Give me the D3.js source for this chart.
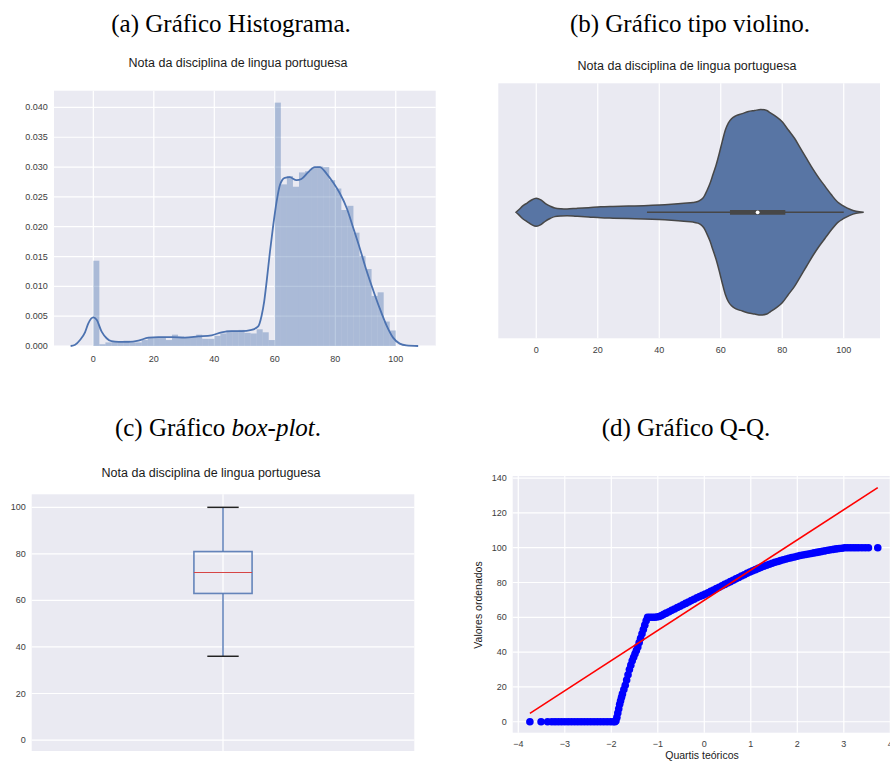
<!DOCTYPE html>
<html>
<head>
<meta charset="utf-8">
<script src="https://cdn.jsdelivr.net/npm/d3@7"></script>
<style>
  body { margin: 0; background: #ffffff; }
  svg { display: block; }
</style>
</head>
<body>
<svg id="fig" width="890" height="763"></svg>
<script>
// ---------- data ----------
// (a) histogram of grades: 50 bins of width 2 starting at 0 (density)
const histStart = 0;
const histBinWidth = 2;
const histDensity = [
  0.0143, 0.0003, 0.0006, 0.0007, 0.0008, 0.0009, 0.0006, 0.0006, 0.0010, 0.0015,
  0.0015, 0.0015, 0.0010, 0.0019, 0.0016, 0.0015, 0.0015, 0.0019, 0.0012, 0.0012,
  0.0017, 0.0021, 0.0026, 0.0026, 0.0027, 0.0022, 0.0021, 0.0028, 0.0023, 0.0010,
  0.0408, 0.0271, 0.0285, 0.0267, 0.0291, 0.0293, 0.0299, 0.0301, 0.0300, 0.0278,
  0.0264, 0.0228, 0.0235, 0.0190, 0.0151, 0.0129, 0.0084, 0.0090, 0.0041, 0.0026
];
// (a) kernel density estimate overlaid on the histogram
const kdeX = [-7.5, -6, -4.4, -2.75, -1.65, 0, 1.1, 2.75, 4.4, 6, 8.3, 11.6, 14.9, 18.2, 21.5,
  25.9, 30.3, 34.7, 39.1, 42.4, 45.7, 49, 52.3, 54.5, 55.6, 56.5, 57.3, 58.4, 59.5, 60.6,
  61.7, 63.3, 64.9, 67.2, 68.8, 71, 73.2, 74.9, 77.1, 79.3, 81.5, 83.8, 86, 88.1, 90.3,
  92.5, 94.7, 96.9, 99.1, 101.3, 103.5, 107.4];
const kdeY = [0, 0.0002, 0.001, 0.0023, 0.0038, 0.0048, 0.0044, 0.0024, 0.0013, 0.0008,
  0.0007, 0.0007, 0.0009, 0.0014, 0.0015, 0.0015, 0.0014, 0.0016, 0.0018, 0.0023,
  0.0025, 0.0025, 0.0027, 0.0033, 0.0050, 0.0075, 0.0108, 0.0158, 0.0203, 0.0242,
  0.0270, 0.0282, 0.0283, 0.0278, 0.0280, 0.0291, 0.0300, 0.0300, 0.0289, 0.0274,
  0.0256, 0.0231, 0.0197, 0.0164, 0.0127, 0.0094, 0.0063, 0.0035, 0.0014, 0.0004,
  0.0001, 0];
const histXTicks = [0, 20, 40, 60, 80, 100];
const histYTicks = [0, 0.005, 0.010, 0.015, 0.020, 0.025, 0.030, 0.035, 0.040];

// (b) violin: relative density (1 = widest point) along the grade axis
const violinX = [-6.6, -5.5, -4.5, -3, -1.5, 0, 1.5, 3, 4.5, 6, 8, 10, 13, 17, 21, 25, 30, 35,
  40, 44, 48, 51, 52.5, 53.5, 54.5, 55.5, 56.5, 57.5, 58.5, 59.5, 60.5, 61.5, 62.5, 63.5,
  65, 67, 69, 71, 73, 75, 76, 78, 80, 82, 84, 86, 88, 90, 92, 94, 96, 98, 100, 102, 104, 106.5];
const violinW = [0, 0.03, 0.06, 0.09, 0.12, 0.136, 0.12, 0.085, 0.06, 0.042, 0.035, 0.033,
  0.038, 0.045, 0.053, 0.057, 0.061, 0.064, 0.07, 0.078, 0.088, 0.095, 0.105, 0.12, 0.15,
  0.21, 0.28, 0.37, 0.46, 0.57, 0.69, 0.80, 0.87, 0.91, 0.94, 0.96, 0.98, 0.99, 1.0, 0.99,
  0.97, 0.93, 0.88, 0.80, 0.72, 0.62, 0.52, 0.42, 0.33, 0.25, 0.17, 0.10, 0.06, 0.03, 0.01, 0];
const violinXTicks = [0, 20, 40, 60, 80, 100];

// Summary statistics of the grades (used by the violin's inner box and the box-plot)
const whiskerLow = 36;
const quartile1 = 63;
const median = 72;
const quartile3 = 81;
const whiskerHigh = 100;
const boxYTicks = [0, 20, 40, 60, 80, 100];

// (d) Q-Q plot: theoretical quantiles vs ordered grades
const qqTheo = [
  -3.75, -3.51, -3.37, -3.28, -3.21, -3.14, -3.07, -3.00, -2.93, -2.86, -2.79, -2.72,
  -2.65, -2.58, -2.51, -2.44, -2.37, -2.30, -2.23, -2.16, -2.09, -2.02, -1.96, -1.92,
  -1.90, -1.88, -1.86, -1.84, -1.82, -1.80, -1.78, -1.76, -1.73, -1.70, -1.67, -1.64,
  -1.61, -1.58, -1.55, -1.52, -1.49, -1.46, -1.43, -1.40, -1.37, -1.34, -1.31, -1.28,
  -1.25, -1.22,
  -1.17, -1.12, -1.07, -1.02, -0.97, -0.92, -0.87, -0.82, -0.76, -0.70, -0.64, -0.58,
  -0.52, -0.46, -0.40, -0.34, -0.28, -0.22, -0.16, -0.10, -0.04, 0.02, 0.08, 0.14,
  0.20, 0.26, 0.32, 0.38, 0.44, 0.50, 0.56, 0.62, 0.68, 0.74, 0.80, 0.86, 0.92, 0.98,
  1.04, 1.10, 1.16, 1.22, 1.28, 1.34, 1.40, 1.46, 1.52, 1.58, 1.64, 1.70, 1.76, 1.82,
  1.88, 1.94, 2.00, 2.06, 2.12, 2.18, 2.24, 2.30, 2.36, 2.42, 2.48, 2.54, 2.60, 2.66,
  2.72, 2.78, 2.84, 2.90, 2.96, 3.02, 3.08, 3.14, 3.20, 3.26, 3.32, 3.39, 3.46, 3.53, 3.73
];
const qqVals = [
  0, 0, 0, 0, 0, 0, 0, 0, 0, 0, 0, 0,
  0, 0, 0, 0, 0, 0, 0, 0, 0, 0, 0, 0,
  0.5, 2.5, 5, 7.5, 10, 12, 14, 16, 18.5, 21, 24, 27,
  30, 32.5, 35, 37, 39, 41, 43, 45.5, 48, 50.5, 53, 55.5,
  58, 60,
  60, 60, 60, 60.2, 60.5, 61, 61.7, 62.4, 63.2, 64, 64.8, 65.6,
  66.4, 67.2, 68, 68.8, 69.6, 70.4, 71.2, 72, 72.6, 73.3, 74.1, 74.9,
  75.7, 76.5, 77.3, 78.1, 78.9, 79.7, 80.5, 81.3, 82.1, 82.9, 83.7, 84.5, 85.3, 86,
  86.7, 87.4, 88.1, 88.7, 89.3, 89.9, 90.5, 91.1, 91.6, 92.1, 92.6, 93.1, 93.5, 93.9,
  94.3, 94.7, 95.1, 95.5, 95.8, 96.1, 96.4, 96.7, 97, 97.3, 97.6, 97.9, 98.2, 98.5,
  98.8, 99.05, 99.3, 99.5, 99.7, 100, 100, 100, 100, 100, 100, 100, 100, 100, 100
];
// least-squares reference line, given by its two end points
const qqLineX = [-3.75, 3.73];
const qqLineY = [4.8, 134.5];
const qqXTicks = [-4, -3, -2, -1, 0, 1, 2, 3, 4];
const qqYTicks = [0, 20, 40, 60, 80, 100, 120, 140];

const chartTitle = "Nota da disciplina de lingua portuguesa";

// ---------- drawing ----------
const svg = d3.select("#fig");
const SANS = "'Liberation Sans', Arial, sans-serif";
const SERIF = "'Liberation Serif', 'Times New Roman', serif";
const BG = "#eaeaf2";
const TICK = "#3d3d3d";

function background(g, x0, y0, x1, y1) {
  g.append("rect").attr("x", x0).attr("y", y0)
    .attr("width", x1 - x0).attr("height", y1 - y0).attr("fill", BG);
}
function vGrid(g, ticks, xs, y0, y1) {
  g.selectAll(null).data(ticks).join("line")
    .attr("x1", d => xs(d)).attr("x2", d => xs(d))
    .attr("y1", y0).attr("y2", y1)
    .attr("stroke", "#fff").attr("stroke-width", 1.2);
}
function hGrid(g, ticks, ys, x0, x1) {
  g.selectAll(null).data(ticks).join("line")
    .attr("y1", d => ys(d)).attr("y2", d => ys(d))
    .attr("x1", x0).attr("x2", x1)
    .attr("stroke", "#fff").attr("stroke-width", 1.2);
}
function xLabels(g, ticks, xs, y, fmt) {
  g.selectAll(null).data(ticks).join("text")
    .attr("x", d => xs(d)).attr("y", y)
    .attr("text-anchor", "middle")
    .attr("font-family", SANS).attr("font-size", 9).attr("fill", TICK)
    .text(fmt);
}
function yLabels(g, ticks, ys, x, fmt) {
  g.selectAll(null).data(ticks).join("text")
    .attr("x", x).attr("y", d => ys(d)).attr("dy", "0.34em")
    .attr("text-anchor", "end")
    .attr("font-family", SANS).attr("font-size", 9).attr("fill", TICK)
    .text(fmt);
}
function title(x, y, txt) {
  svg.append("text").attr("x", x).attr("y", y).attr("text-anchor", "middle")
    .attr("font-family", SANS).attr("font-size", 12.5).attr("fill", "#1a1a1a")
    .text(txt);
}
function caption(x, y, parts) {
  const t = svg.append("text").attr("x", x).attr("y", y).attr("text-anchor", "middle")
    .attr("font-family", SERIF).attr("font-size", 25).attr("fill", "#000");
  parts.forEach(p => t.append("tspan").attr("font-style", p.italic ? "italic" : "normal").text(p.t));
}

// captions
caption(231, 32, [{ t: "(a) Gráfico Histograma." }]);
caption(690, 32, [{ t: "(b) Gráfico tipo violino." }]);
caption(218, 436, [{ t: "(c) Gráfico " }, { t: "box-plot", italic: true }, { t: "." }]);
caption(686, 436, [{ t: "(d) Gráfico Q-Q." }]);

// ----- (a) histogram + KDE -----
{
  const L = 54, T = 90.7, R = 435.7, B = 346;
  const x = d3.scaleLinear().domain([-13.0, 113.2]).range([L, R]);
  const y = d3.scaleLinear().domain([0, 0.0428]).range([B, T]);
  const g = svg.append("g");
  background(g, L, T, R, B);
  vGrid(g, histXTicks, x, T, B);
  hGrid(g, histYTicks, y, L, R);
  const bins = histDensity.map((d, i) => ({
    x0: histStart + i * histBinWidth, x1: histStart + (i + 1) * histBinWidth, d
  }));
  g.selectAll(null).data(bins).join("rect")
    .attr("x", b => x(b.x0)).attr("width", b => x(b.x1) - x(b.x0))
    .attr("y", b => y(b.d)).attr("height", b => y(0) - y(b.d))
    .attr("fill", "#4c72b0").attr("fill-opacity", 0.4);
  const kde = kdeX.map((v, i) => [v, kdeY[i]]);
  g.append("path").datum(kde)
    .attr("d", d3.line().x(d => x(d[0])).y(d => y(d[1])).curve(d3.curveMonotoneX))
    .attr("fill", "none").attr("stroke", "#4c72b0").attr("stroke-width", 1.8);
  xLabels(g, histXTicks, x, 361.5, d3.format("d"));
  yLabels(g, histYTicks, y, 47.7, d3.format(".3f"));
  title(238, 67, chartTitle);
}

// ----- (b) violin -----
{
  const L = 498.3, T = 83.3, R = 880, B = 338.3;
  const x = d3.scaleLinear().domain([-12.35, 111.8]).range([L, R]);
  const cy = 212.3;
  const y = d3.scaleLinear().domain([-0.5, 0.5]).range([cy + 128.5, cy - 128.5]);
  const g = svg.append("g");
  background(g, L, T, R, B);
  vGrid(g, violinXTicks, x, T, B);
  const shape = violinX.map((v, i) => [v, violinW[i] * 0.4]);
  const gray = "#474747";
  g.append("path").datum(shape)
    .attr("d", d3.area().x(d => x(d[0])).y0(d => y(-d[1])).y1(d => y(d[1])).curve(d3.curveMonotoneX))
    .attr("fill", "#5875a4").attr("stroke", gray).attr("stroke-width", 1.5);
  g.append("line").attr("x1", x(whiskerLow)).attr("x2", x(whiskerHigh))
    .attr("y1", y(0)).attr("y2", y(0)).attr("stroke", gray).attr("stroke-width", 1.5);
  g.append("line").attr("x1", x(quartile1)).attr("x2", x(quartile3))
    .attr("y1", y(0)).attr("y2", y(0)).attr("stroke", gray).attr("stroke-width", 4.8);
  g.append("circle").attr("cx", x(median)).attr("cy", y(0)).attr("r", 1.9).attr("fill", "#fff");
  xLabels(g, violinXTicks, x, 353, d3.format("d"));
  title(687, 69.5, chartTitle);
}

// ----- (c) box-plot -----
{
  const L = 31.7, T = 494.3, R = 414.3, B = 751;
  const x = d3.scaleLinear().domain([0.5, 1.5]).range([L, R]);
  const y = d3.scaleLinear().domain([-4.7, 105.6]).range([B, T]);
  const g = svg.append("g");
  background(g, L, T, R, B);
  vGrid(g, [1], x, T, B);
  hGrid(g, boxYTicks, y, L, R);
  const boxHalf = 0.076, capHalf = 0.041;
  const blue = "#4c72b0";
  // whiskers
  [[whiskerLow, quartile1], [quartile3, whiskerHigh]].forEach(([a, b]) => {
    g.append("line").attr("x1", x(1)).attr("x2", x(1)).attr("y1", y(a)).attr("y2", y(b))
      .attr("stroke", blue).attr("stroke-width", 1.6).attr("stroke-opacity", 0.85);
  });
  // box
  g.append("rect").attr("x", x(1 - boxHalf)).attr("width", x(1 + boxHalf) - x(1 - boxHalf))
    .attr("y", y(quartile3)).attr("height", y(quartile1) - y(quartile3))
    .attr("fill", "none").attr("stroke", blue).attr("stroke-width", 1.6).attr("stroke-opacity", 0.85);
  // caps
  [whiskerLow, whiskerHigh].forEach(v => {
    g.append("line").attr("x1", x(1 - capHalf)).attr("x2", x(1 + capHalf))
      .attr("y1", y(v)).attr("y2", y(v)).attr("stroke", "#222").attr("stroke-width", 1.5);
  });
  // median
  g.append("line").attr("x1", x(1 - boxHalf)).attr("x2", x(1 + boxHalf))
    .attr("y1", y(median)).attr("y2", y(median)).attr("stroke", "#d64545").attr("stroke-width", 1.2);
  yLabels(g, boxYTicks, y, 25.7, d3.format("d"));
  title(211, 476.7, chartTitle);
}

// ----- (d) Q-Q plot -----
{
  const L = 512.7, T = 476, R = 895.9, B = 732.7;
  const x = d3.scaleLinear().domain([-4.12, 4.12]).range([L, R]);
  const y = d3.scaleLinear().domain([-6.3, 141.2]).range([B, T]);
  const g = svg.append("g");
  background(g, L, T, R, B);
  vGrid(g, qqXTicks, x, T, B);
  hGrid(g, qqYTicks, y, L, R);
  const pts = qqTheo.map((q, i) => [q, qqVals[i]]);
  g.selectAll(null).data(pts).join("circle")
    .attr("cx", d => x(d[0])).attr("cy", d => y(d[1])).attr("r", 3.8)
    .attr("fill", "#0000ff");
  g.append("line")
    .attr("x1", x(qqLineX[0])).attr("y1", y(qqLineY[0]))
    .attr("x2", x(qqLineX[1])).attr("y2", y(qqLineY[1]))
    .attr("stroke", "#ff0000").attr("stroke-width", 1.6);
  xLabels(g, qqXTicks, x, 746.5, d3.format("d"));
  yLabels(g, qqYTicks, y, 506.7, d3.format("d"));
  g.append("text").attr("x", 702).attr("y", 759)
    .attr("text-anchor", "middle").attr("font-family", SANS).attr("font-size", 10.5)
    .attr("fill", "#1a1a1a").text("Quartis teóricos");
  g.append("text").attr("transform", "translate(482,605) rotate(-90)")
    .attr("text-anchor", "middle").attr("font-family", SANS).attr("font-size", 10.5)
    .attr("fill", "#1a1a1a").text("Valores ordenados");
}
</script>
</body>
</html>
